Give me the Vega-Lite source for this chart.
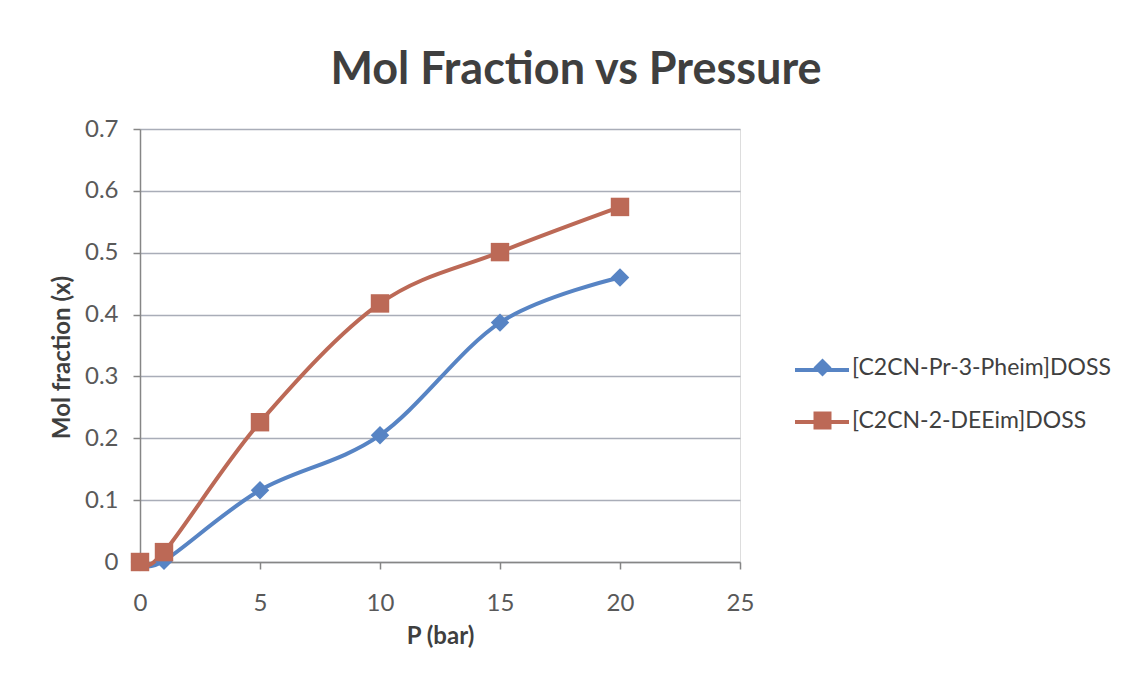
{
  "$schema": "https://vega.github.io/schema/vega-lite/v6.json",
  "width": 600,
  "height": 433,
  "autosize": {"type": "none"},
  "padding": {"left": 140, "top": 129, "right": 392, "bottom": 120},
  "background": "white",
  "title": {
    "text": "Mol Fraction vs Pressure",
    "font": "Lato",
    "fontSize": 45,
    "fontWeight": "bold",
    "color": "#3f3f3f",
    "anchor": "middle",
    "dx": 136,
    "offset": 24
  },
  "data": {
    "values": [
      {"series": "[C2CN-Pr-3-Pheim]DOSS", "p": 0, "x": 0},
      {"series": "[C2CN-Pr-3-Pheim]DOSS", "p": 1, "x": 0.002},
      {"series": "[C2CN-Pr-3-Pheim]DOSS", "p": 5, "x": 0.116},
      {"series": "[C2CN-Pr-3-Pheim]DOSS", "p": 10, "x": 0.205},
      {"series": "[C2CN-Pr-3-Pheim]DOSS", "p": 15, "x": 0.387},
      {"series": "[C2CN-Pr-3-Pheim]DOSS", "p": 20, "x": 0.46},
      {"series": "[C2CN-2-DEEim]DOSS", "p": 0, "x": 0},
      {"series": "[C2CN-2-DEEim]DOSS", "p": 1, "x": 0.016},
      {"series": "[C2CN-2-DEEim]DOSS", "p": 5, "x": 0.226},
      {"series": "[C2CN-2-DEEim]DOSS", "p": 10, "x": 0.418},
      {"series": "[C2CN-2-DEEim]DOSS", "p": 15, "x": 0.501},
      {"series": "[C2CN-2-DEEim]DOSS", "p": 20, "x": 0.574}
    ]
  },
  "encoding": {
    "x": {
      "field": "p",
      "type": "quantitative",
      "title": "P (bar)",
      "scale": {"domain": [0, 25], "nice": false, "zero": false},
      "axis": {
        "values": [0, 5, 10, 15, 20, 25],
        "labelFlush": false,
        "labelOverlap": false,
        "grid": false,
        "domainColor": "#868686",
        "domainWidth": 1.5,
        "tickColor": "#868686",
        "tickWidth": 1.5,
        "tickSize": 7,
        "labelFont": "Lato",
        "labelFontSize": 24,
        "labelColor": "#595959",
        "labelPadding": 22,
        "titleFont": "Lato",
        "titleFontSize": 24,
        "titleFontWeight": "bold",
        "titleColor": "#3f3f3f",
        "titlePadding": 9
      }
    },
    "y": {
      "field": "x",
      "type": "quantitative",
      "title": "Mol fraction (x)",
      "scale": {"domain": [0, 0.7], "nice": false, "zero": false},
      "axis": {
        "values": [0, 0.1, 0.2, 0.3, 0.4, 0.5, 0.6, 0.7],
        "format": "~g",
        "labelFlush": false,
        "labelOverlap": false,
        "grid": true,
        "gridColor": "#a9adb8",
        "gridWidth": 1.5,
        "domainColor": "#868686",
        "domainWidth": 1.5,
        "tickColor": "#868686",
        "tickWidth": 1.5,
        "tickSize": 7,
        "labelFont": "Lato",
        "labelFontSize": 24,
        "labelColor": "#595959",
        "labelPadding": 15,
        "titleFont": "Lato",
        "titleFontSize": 24,
        "titleFontWeight": "bold",
        "titleColor": "#3f3f3f",
        "titlePadding": 10,
        "titleY": 228
      }
    }
  },
  "layer": [
    {
      "mark": {"type": "line", "interpolate": "cardinal", "strokeWidth": 4},
      "encoding": {
        "stroke": {
          "field": "series",
          "type": "nominal",
          "title": null,
          "sort": ["[C2CN-Pr-3-Pheim]DOSS", "[C2CN-2-DEEim]DOSS"],
          "scale": {"range": ["#5784c4", "#bc6956"]},
          "legend": {
            "orient": "none",
            "legendX": 653,
            "legendY": 212,
            "padding": 0,
            "symbolType": "stroke",
            "symbolSize": 2916,
            "symbolStrokeWidth": 4,
            "labelExpr": "''",
            "labelFontSize": 1,
            "labelOffset": 0,
            "rowPadding": 15
          }
        }
      }
    },
    {
      "mark": {"type": "point", "filled": true, "opacity": 1, "size": 340},
      "encoding": {
        "fill": {
          "field": "series",
          "type": "nominal",
          "title": null,
          "scale": {
            "domain": ["[C2CN-Pr-3-Pheim]DOSS", "[C2CN-2-DEEim]DOSS"],
            "range": ["#5784c4", "#bc6956"]
          },
          "legend": {
            "orient": "none",
            "legendX": 671,
            "legendY": 227,
            "padding": 0,
            "symbolSize": 324,
            "symbolOpacity": 1,
            "symbolStrokeWidth": 0,
            "labelFont": "Lato",
            "labelFontSize": 23,
            "labelColor": "#404040",
            "labelOffset": 18,
            "labelLimit": 400,
            "rowPadding": 29
          }
        },
        "shape": {
          "field": "series",
          "type": "nominal",
          "title": null,
          "scale": {
            "domain": ["[C2CN-Pr-3-Pheim]DOSS", "[C2CN-2-DEEim]DOSS"],
            "range": ["diamond", "square"]
          },
          "legend": {
            "orient": "none",
            "legendX": 671,
            "legendY": 227,
            "padding": 0,
            "symbolSize": 324,
            "symbolOpacity": 1,
            "symbolStrokeWidth": 0,
            "labelFont": "Lato",
            "labelFontSize": 23,
            "labelColor": "#404040",
            "labelOffset": 18,
            "labelLimit": 400,
            "rowPadding": 29
          }
        }
      }
    }
  ]
}
